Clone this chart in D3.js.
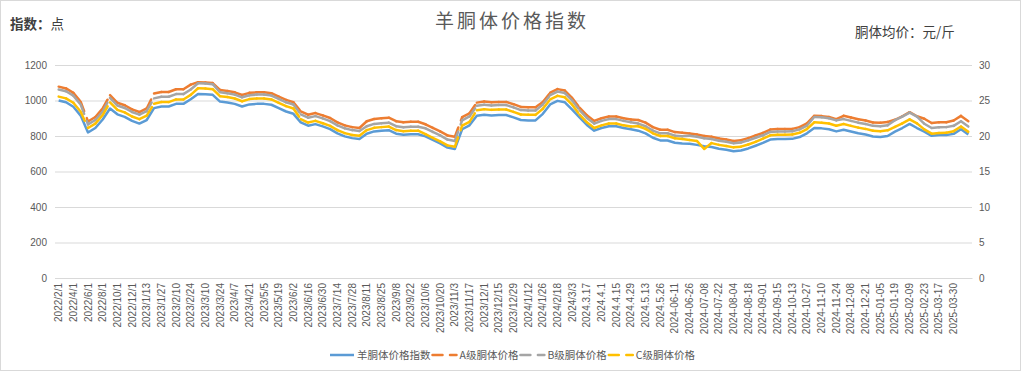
<!DOCTYPE html>
<html>
<head>
<meta charset="utf-8">
<script src="https://cdn.jsdelivr.net/npm/d3@7"></script>
<style>
  body { margin: 0; background: #fff; }
  svg { display: block; font-family: "Noto Sans CJK SC", sans-serif; }
</style>
</head>
<body>
<svg width="1024" height="373"></svg>
<script>
let categories = [
  "2022/2/1","2022/3/1","2022/4/1","2022/5/1","2022/6/1","2022/7/1","2022/8/1","2022/9/1","2022/10/1","2022/11/1",
  "2022/12/1","2023/1/6","2023/1/13","2023/1/20","2023/1/27","2023/2/3","2023/2/10","2023/2/17","2023/2/24","2023/3/3",
  "2023/3/10","2023/3/17","2023/3/24","2023/3/31","2023/4/7","2023/4/14","2023/4/21","2023/4/28","2023/5/5","2023/5/12",
  "2023/5/19","2023/5/26","2023/6/2","2023/6/9","2023/6/16","2023/6/23","2023/6/30","2023/7/7","2023/7/14","2023/7/21",
  "2023/7/28","2023/8/4","2023/8/11","2023/8/18","2023/8/25","2023/9/1","2023/9/8","2023/9/15","2023/9/22","2023/9/28",
  "2023/10/6","2023/10/13","2023/10/20","2023/10/27","2023/11/3","2023/11/10","2023/11/17","2023/11/24","2023/12/1","2023/12/8",
  "2023/12/15","2023/12/22","2023/12/29","2024/1/5","2024/1/12","2024/1/19","2024/1/26","2024/2/2","2024/2/18","2024/2/25",
  "2024/3/3","2024/3/10","2024.3.17","2024.3.24","2024.4.1","2024.4.8","2024.4.15","2024.4.22","2024.4.29","2024.5.6",
  "2024.5.13","2024.5.19","2024.5.26","2024-06-02","2024-06-11","2024-06-17","2024-06-26","2024-07-01","2024-07-08","2024-07-15",
  "2024-07-22","2024-07-28","2024-08-04","2024-08-11","2024-08-18","2024-08-25","2024-09-01","2024-09-08","2024-09-15","2024-09-29",
  "2024-10-13","2024-10-20","2024-10-27","2024-11-03","2024-11-10","2024-11-17","2024-11-24","2024-12-01","2024-12-08","2024-12-15",
  "2024-12-21","2024-12-29","2025-01-05","2025-01-12","2025-01-19","2025-01-26","2025-02-09","2025-02-16","2025-02-23","2025-03-02",
  "2025-03-17","2025-03-23","2025-03-30","2025-04-06","2025-04-13"
];

// which categories carry a label on the axis (every other one, up to 2025-03-30)
let labelledCategories = categories.filter((c, i) => i % 2 === 0 && i <= 122);

// 羊胴体价格指数 (left axis, 点)
let indexValues = [
  1000,990,965,915,820,845,893,955,922,908,
  885,870,890,957,966,966,981,981,1007,1037,
  1035,1032,994,989,981,966,978,981,981,976,
  957,938,925,877,858,867,854,839,815,798,
  788,783,813,826,830,833,813,807,810,810,
  798,778,758,735,727,838,860,914,920,916,
  918,918,905,890,888,888,925,978,998,990,
  948,905,862,830,845,855,855,845,838,830,
  815,790,775,775,762,758,756,750,742,738,
  728,722,714,718,730,745,761,780,783,783,
  784,794,815,845,843,838,826,835,825,815,
  808,797,795,800,825,845,868,845,825,801,
  805,806,812,838,808
];

// A级胴体价格 (right axis, 元/斤)
let gradeA = [
  26.95,26.70,26.08,24.83,22.05,22.68,23.88,25.75,24.68,24.33,
  23.75,23.38,23.88,25.98,26.20,26.20,26.58,26.58,27.23,27.58,
  27.53,27.45,26.48,26.35,26.15,25.78,26.08,26.15,26.15,26.03,
  25.55,25.08,24.75,23.48,23.00,23.23,22.90,22.53,21.93,21.50,
  21.25,21.13,22.08,22.40,22.50,22.58,22.08,21.93,22.00,22.00,
  21.65,21.15,20.65,20.08,19.88,22.65,23.20,24.70,24.85,24.75,
  24.80,24.80,24.48,24.10,24.05,24.05,24.78,26.10,26.60,26.40,
  25.35,24.00,22.93,22.13,22.50,22.75,22.75,22.50,22.33,22.25,
  21.88,21.25,20.88,20.88,20.55,20.45,20.35,20.20,20.00,19.90,
  19.65,19.50,19.30,19.40,19.70,20.08,20.43,20.90,20.98,20.98,
  21.00,21.25,21.78,22.85,22.80,22.68,22.38,22.85,22.60,22.35,
  22.18,21.90,21.85,21.98,22.28,22.78,23.35,22.78,22.43,21.83,
  21.93,21.95,22.18,22.83,22.08
];

// B级胴体价格
let gradeB = [
  26.55,26.30,25.68,24.43,21.63,22.25,23.45,25.38,24.30,23.95,
  23.38,23.00,23.50,25.30,25.53,25.53,25.90,25.90,26.55,27.43,
  27.38,27.30,26.15,26.03,25.83,25.45,25.75,25.83,25.83,25.70,
  25.23,24.75,24.43,23.05,22.58,22.80,22.48,22.10,21.50,21.08,
  20.83,20.70,21.38,21.70,21.80,21.88,21.38,21.23,21.30,21.30,
  21.08,20.58,20.08,19.50,19.30,22.20,22.75,24.25,24.40,24.30,
  24.35,24.35,24.03,23.65,23.60,23.60,24.43,25.75,26.25,26.05,
  25.00,23.63,22.55,21.75,22.13,22.38,22.38,22.13,21.95,21.75,
  21.38,20.75,20.38,20.38,20.05,19.95,20.03,19.88,19.68,19.58,
  19.33,19.18,18.98,19.08,19.38,19.75,20.10,20.58,20.65,20.65,
  20.68,20.93,21.45,22.68,22.63,22.50,22.20,22.38,22.13,21.88,
  21.70,21.43,21.38,21.50,22.23,22.73,23.30,22.73,21.73,21.13,
  21.23,21.25,21.43,22.08,21.33
];

// C级胴体价格
let gradeC = [
  25.55,25.30,24.68,23.43,21.13,21.75,22.95,24.75,23.68,23.33,
  22.75,22.38,22.88,24.55,24.78,24.78,25.15,25.15,25.80,26.73,
  26.68,26.60,25.60,25.48,25.28,24.90,25.20,25.28,25.28,25.15,
  24.68,24.20,23.88,22.38,21.90,22.13,21.80,21.43,20.83,20.40,
  20.15,20.03,20.83,21.15,21.25,21.33,20.83,20.68,20.75,20.75,
  20.25,19.75,19.25,18.68,18.48,21.45,22.00,23.63,23.78,23.68,
  23.73,23.73,23.40,23.03,22.98,22.98,23.83,25.15,25.65,25.45,
  24.40,23.00,21.93,21.13,21.50,21.75,21.75,21.50,21.33,21.38,
  21.00,20.38,20.00,20.00,19.68,19.58,19.45,19.30,18.18,19.00,
  18.75,18.60,18.40,18.50,18.80,19.18,19.63,20.10,20.18,20.18,
  20.20,20.45,20.98,21.93,21.88,21.75,21.45,21.68,21.43,21.18,
  21.00,20.73,20.68,20.80,21.28,21.78,22.35,21.78,20.93,20.33,
  20.43,20.45,20.68,21.33,20.58
];

let leftTicks  = [0, 200, 400, 600, 800, 1000, 1200];
let rightTicks = [0, 5, 10, 15, 20, 25, 30];
let seriesNames = ["羊胴体价格指数", "A级胴体价格", "B级胴体价格", "C级胴体价格"];
let seriesColors = ["#5b9bd5", "#ed7d31", "#a5a5a5", "#ffc000"];

let LEFT = 55, RIGHT = 972, TOP = 65, BOTTOM = 278;
let TEXT = "#595959";

let svg = d3.select("svg");

svg.append("rect")
   .attr("x", 0.5).attr("y", 0.5)
   .attr("width", 1020).attr("height", 370)
   .attr("fill", "#fff").attr("stroke", "#d9d9d9");

let x = d3.scaleBand().domain(categories).range([LEFT, RIGHT]);
let yL = d3.scaleLinear().domain([0, 1200]).range([BOTTOM, TOP]);
let yR = d3.scaleLinear().domain([0, 30]).range([BOTTOM, TOP]);
let cx = c => x(c) + x.bandwidth() / 2;

// left axis + gridlines
let gL = svg.append("g")
    .attr("transform", "translate(" + LEFT + ",0)")
    .call(d3.axisLeft(yL).tickValues(leftTicks).tickFormat(d3.format("d"))
        .tickSize(-(RIGHT - LEFT)).tickPadding(8));
gL.select(".domain").remove();
gL.selectAll("line").attr("stroke", "#d9d9d9");
gL.selectAll("text").attr("fill", TEXT).style("font-size", "10px");

// right axis
let gR = svg.append("g")
    .attr("transform", "translate(" + RIGHT + ",0)")
    .call(d3.axisRight(yR).tickValues(rightTicks).tickFormat(d3.format("d"))
        .tickSize(0).tickPadding(7));
gR.select(".domain").remove();
gR.selectAll("text").attr("fill", TEXT).style("font-size", "10px");

// category axis
let gX = svg.append("g")
    .attr("transform", "translate(0," + BOTTOM + ")")
    .call(d3.axisBottom(x).tickValues(labelledCategories).tickSize(0));
gX.select(".domain").attr("stroke", "#d9d9d9");
gX.selectAll("text")
  .attr("transform", "rotate(-90)")
  .attr("x", -5).attr("y", 0).attr("dy", "0.35em")
  .style("text-anchor", "end")
  .style("font-size", "10px")
  .attr("fill", TEXT);

// index line (solid)
let line = d3.line().x((d, i) => cx(categories[i])).y(d => yL(d));
svg.append("path")
   .datum(indexValues)
   .attr("d", line)
   .attr("fill", "none")
   .attr("stroke", seriesColors[0])
   .attr("stroke-width", 2.5)
   .attr("stroke-linejoin", "round");

// dashed price lines: dash pattern restarts at each point
function dashed(values, color) {
    let segs = d3.pairs(values.map((v, i) => [cx(categories[i]), yR(v)]));
    svg.append("g").selectAll("line")
       .data(segs)
       .enter()
       .append("line")
       .attr("x1", d => d[0][0]).attr("y1", d => d[0][1])
       .attr("x2", d => d[1][0]).attr("y2", d => d[1][1])
       .attr("stroke", color)
       .attr("stroke-width", 2.5)
       .attr("stroke-linecap", "round")
       .attr("stroke-dasharray", "10,7.5");
}
dashed(gradeA, seriesColors[1]);
dashed(gradeB, seriesColors[2]);
dashed(gradeC, seriesColors[3]);

// titles
svg.append("text")
   .attr("x", 512).attr("y", 28)
   .attr("text-anchor", "middle")
   .attr("fill", TEXT)
   .style("font-size", "19px")
   .style("letter-spacing", "3px")
   .text("羊胴体价格指数");

let unitL = svg.append("text")
   .attr("x", 10).attr("y", 29)
   .attr("fill", "#404040")
   .style("font-size", "13.5px");
unitL.append("tspan").style("font-weight", "bold").text("指数：");
unitL.append("tspan").text("点");

svg.append("text")
   .attr("x", 855).attr("y", 37)
   .attr("fill", "#404040")
   .style("font-size", "13.5px")
   .text("胴体均价：元/斤");

// legend
let lx = 330, ly = 355;
seriesNames.forEach(function (name, k) {
    let sample = svg.append("line")
        .attr("x1", lx).attr("x2", lx + 24)
        .attr("y1", ly).attr("y2", ly)
        .attr("stroke", seriesColors[k])
        .attr("stroke-width", 2.5);
    if (k > 0) sample.attr("stroke-dasharray", "10,7.5").attr("stroke-linecap", "round");
    let t = svg.append("text")
        .attr("x", lx + 27).attr("y", ly).attr("dy", "0.35em")
        .attr("fill", TEXT)
        .style("font-size", "10.5px")
        .text(name);
    lx += 27 + t.node().getComputedTextLength() + 2;
});
</script>
</body>
</html>
